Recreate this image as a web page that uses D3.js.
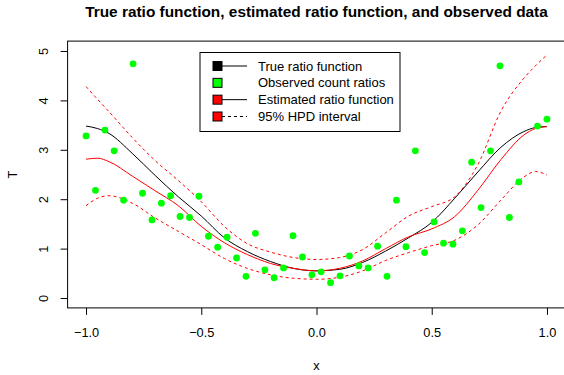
<!DOCTYPE html>
<html>
<head>
<meta charset="utf-8">
<script src="https://cdn.jsdelivr.net/npm/d3@7"></script>
<style>
	body { margin: 0; background: #fff; }
	svg { display: block; font-family: "Liberation Sans", Arial, Helvetica, sans-serif; }
	.axis text { font-size: 12.8px; fill: #000; }
	.axis line, .axis path { stroke: #000; }
</style>
</head>
<body>
<div id="chart"></div>
<script>
"use strict";

/* global d3 */

// Observed count ratios (x is a regular grid on [-1, 1]; the point at 0.918 lies above the plot)
var obsX = [-1.000, -0.959, -0.918, -0.878, -0.837, -0.796, -0.755, -0.714, -0.673, -0.633,
	-0.592, -0.551, -0.510, -0.469, -0.429, -0.388, -0.347, -0.306, -0.265, -0.224,
	-0.184, -0.143, -0.102, -0.061, -0.020, 0.020, 0.061, 0.102, 0.143, 0.184,
	0.224, 0.265, 0.306, 0.347, 0.388, 0.429, 0.469, 0.510, 0.551, 0.592,
	0.633, 0.673, 0.714, 0.755, 0.796, 0.837, 0.878, 0.959, 1.000];
var obsT = [3.28, 2.18, 3.40, 2.98, 1.98, 4.74, 2.12, 1.58, 1.92, 2.07,
	1.65, 1.63, 2.06, 1.25, 1.03, 1.23, 0.81, 0.44, 1.31, 0.57,
	0.41, 0.61, 1.26, 0.83, 0.47, 0.53, 0.31, 0.45, 0.85, 0.65,
	0.61, 1.05, 0.44, 1.98, 1.04, 2.98, 0.92, 1.54, 1.11, 1.09,
	1.36, 2.75, 1.83, 2.98, 4.70, 1.63, 2.35, 3.48, 3.62];

// Curves, read at these x positions
var curveX = [-1.0, -0.95, -0.9, -0.8, -0.7, -0.6, -0.5, -0.4, -0.3, -0.2, -0.1,
	0.0, 0.1, 0.2, 0.3, 0.4, 0.5, 0.6, 0.7, 0.8, 0.9, 0.95, 1.0];
var trueT  = [3.48, 3.43, 3.33, 2.93, 2.48, 2.05, 1.66, 1.22, 0.94, 0.74, 0.60,
	0.55, 0.58, 0.72, 0.95, 1.22, 1.53, 2.02, 2.55, 3.05, 3.37, 3.45, 3.47];
var estT   = [2.81, 2.83, 2.76, 2.47, 2.17, 1.87, 1.45, 1.12, 0.88, 0.70, 0.60,
	0.55, 0.60, 0.75, 1.00, 1.24, 1.40, 1.65, 2.18, 2.80, 3.30, 3.43, 3.47];
var upperT = [4.28, 4.02, 3.77, 3.25, 2.78, 2.38, 1.95, 1.45, 1.10, 0.93, 0.82,
	0.78, 0.82, 0.98, 1.32, 1.66, 1.85, 2.05, 2.70, 3.78, 4.45, 4.70, 4.92];
var lowerT = [1.87, 2.02, 2.07, 1.92, 1.62, 1.35, 1.08, 0.80, 0.60, 0.47, 0.40,
	0.38, 0.42, 0.55, 0.76, 0.92, 1.06, 1.17, 1.48, 1.98, 2.45, 2.56, 2.49];

var xTicks = [-1.0, -0.5, 0.0, 0.5, 1.0];
var yTicks = [0, 1, 2, 3, 4, 5];

var legendLabels = ["True ratio function", "Observed count ratios",
	"Estimated ratio function", "95% HPD interval"];

var W = 564, H = 375;
var plot = { left: 67.6, right: 565.4, top: 41.1, bottom: 307.9 };

var svg = d3.select('#chart').append('svg').attr('width', W).attr('height', H);

var x = d3.scaleLinear().domain([-1.08, 1.08]).range([plot.left, plot.right]);
var y = d3.scaleLinear().domain([-0.2, 5.2]).range([plot.bottom, plot.top]);

// Clip everything inside the plot region
svg.append('clipPath').attr('id', 'plotclip').append('rect').
	attr('x', plot.left).attr('y', plot.top).
	attr('width', plot.right - plot.left).attr('height', plot.bottom - plot.top);

var inner = svg.append('g').attr('clip-path', 'url(#plotclip)');

function drawCurve(vals, color, dash) {
	var line = d3.line().x(function(d, i) { return x(curveX[i]); }).
		y(function(d) { return y(d); }).curve(d3.curveMonotoneX);
	inner.append('path').datum(vals).attr('d', line).
		style('fill', 'none').style('stroke', color).style('stroke-width', 1).
		style('stroke-dasharray', dash || null);
}

drawCurve(trueT, '#000');
drawCurve(estT, '#ff0000');
drawCurve(upperT, '#ff0000', '3,3');
drawCurve(lowerT, '#ff0000', '3,3');

inner.selectAll('circle.obs').data(obsT).enter().append('circle').
	attr('class', 'obs').
	attr('cx', function(d, i) { return x(obsX[i]); }).
	attr('cy', function(d) { return y(d); }).
	attr('r', 3.4).style('fill', '#00ff00');

// Plot box (right edge falls outside the window)
svg.append('rect').attr('x', plot.left).attr('y', plot.top).
	attr('width', plot.right - plot.left).attr('height', plot.bottom - plot.top).
	style('fill', 'none').style('stroke', '#000').style('stroke-width', 1);

// Axes
var xAxis = d3.axisBottom(x).tickValues(xTicks).tickFormat(d3.format('.1f')).
	tickSize(7).tickPadding(13).tickSizeOuter(0);
var gx = svg.append('g').attr('class', 'axis').
	attr('transform', 'translate(0,' + plot.bottom + ')').call(xAxis);
gx.select('.domain').remove();

var yAxis = d3.axisLeft(y).tickValues(yTicks).tickFormat(d3.format('d')).
	tickSize(7).tickSizeOuter(0);
var gy = svg.append('g').attr('class', 'axis').
	attr('transform', 'translate(' + plot.left + ',0)').call(yAxis);
gy.select('.domain').remove();
gy.selectAll('.tick text').attr('transform', 'rotate(-90)').
	attr('x', 0).attr('y', -24.3).attr('dy', '0.35em').style('text-anchor', 'middle');

// Titles
svg.append('text').attr('x', (plot.left + plot.right) / 2).attr('y', 16.5).
	style('text-anchor', 'middle').style('font-weight', 'bold').style('font-size', '15.4px').
	text('True ratio function, estimated ratio function, and observed data');

svg.append('text').attr('x', (plot.left + plot.right) / 2).attr('y', 369.5).
	style('text-anchor', 'middle').style('font-size', '12.8px').text('x');

svg.append('text').attr('transform', 'translate(17,' + ((plot.top + plot.bottom) / 2) + ') rotate(-90)').
	style('text-anchor', 'middle').style('font-size', '12.8px').text('T');

////////////////////////////////////////////////////////////////////////////////
// Legend: box, marker squares, line samples and labels
////////////////////////////////////////////////////////////////////////////////
var legendBox = { x: 200, y: 52.5, w: 200, h: 79 };
var legendRowY = d3.scalePoint().domain(legendLabels).range([66, 116.5]);
var legendFill = ['#000', '#00ff00', '#ff0000', '#ff0000'];
var legendLine = [null, 'none', null, '3,3'];

var lg = svg.append('g').attr('class', 'legend');
lg.append('rect').attr('x', legendBox.x).attr('y', legendBox.y).
	attr('width', legendBox.w).attr('height', legendBox.h).
	style('fill', '#fff').style('stroke', '#000').style('stroke-width', 1);

legendLabels.forEach(function(lbl, i) {
	var cy = legendRowY(lbl);
	if (legendLine[i] !== 'none') {
		lg.append('line').attr('x1', 222).attr('x2', 247).attr('y1', cy).attr('y2', cy).
			style('stroke', '#000').style('stroke-width', 1).
			style('stroke-dasharray', legendLine[i]);
	}
	lg.append('rect').attr('x', 213).attr('y', cy - 4.5).attr('width', 9).attr('height', 9).
		style('fill', legendFill[i]).style('stroke', '#000').style('stroke-width', 1);
	lg.append('text').attr('x', 258).attr('y', cy).attr('dy', '0.35em').
		style('font-size', '13px').text(lbl);
});
</script>
</body>
</html>
